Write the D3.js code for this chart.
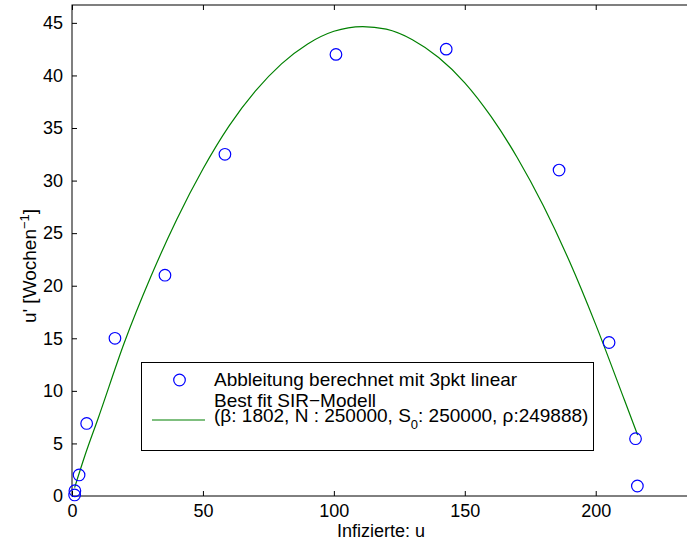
<!DOCTYPE html>
<html>
<head>
<meta charset="utf-8">
<script src="https://cdn.jsdelivr.net/npm/d3@7"></script>
<style>
  body { margin: 0; background: #fff; }
  svg { font-family: "Liberation Sans", Arial, sans-serif; }
</style>
</head>
<body>
<div id="chart"></div>
<script>
// measured points (u, u')
const obsU = [1.0, 1.1, 2.7, 5.6, 16.4, 35.5, 58.4, 100.8, 142.9, 186.0, 205.1, 215.2, 215.9];
const obsV = [0.1, 0.5, 2.0, 6.9, 15.0, 21.0, 32.5, 42.0, 42.5, 31.0, 14.6, 5.45, 0.95];

// fitted SIR curve
const fitU = [1, 5, 10, 20, 30, 40, 50, 60, 70, 80, 90, 100, 111, 120, 130, 140, 150, 160, 170, 180, 190, 200, 211, 216];
const fitV = [0.8, 3.9, 7.4, 14.6, 20.8, 26.3, 31.1, 35.2, 38.5, 41.1, 43.0, 44.2, 44.65, 44.4, 43.4, 41.7, 39.3, 36.1, 32.2, 27.6, 22.3, 16.3, 9.1, 5.8];

const xTicks = [0, 50, 100, 150, 200];
const yTicks = [0, 5, 10, 15, 20, 25, 30, 35, 40, 45];

const width = 687, height = 546;
const margin = { top: 5, left: 72, bottom: 496, right: 690 };

const svg = d3.select("#chart").append("svg")
  .attr("width", width).attr("height", height);

const x = d3.scaleLinear().domain([0, 236]).range([margin.left, margin.right]);
const y = d3.scaleLinear().domain([0, 46.7]).range([margin.bottom, margin.top]);

const fs = 18;

// axes box
svg.append("rect")
  .attr("x", margin.left).attr("y", margin.top)
  .attr("width", margin.right - margin.left).attr("height", margin.bottom - margin.top)
  .attr("fill", "none").attr("stroke", "#000").attr("stroke-width", 1);

const xAxis = d3.axisBottom(x).tickValues(xTicks).tickSizeInner(-5).tickSizeOuter(0).tickPadding(12);
const yAxis = d3.axisLeft(y).tickValues(yTicks).tickSizeInner(-5).tickSizeOuter(0).tickPadding(9);

const gx = svg.append("g").attr("transform", `translate(0,${margin.bottom})`).call(xAxis);
const gy = svg.append("g").attr("transform", `translate(${margin.left},0)`).call(yAxis);
[gx, gy].forEach(g => {
  g.select(".domain").remove();
  g.selectAll("text").style("font-size", fs + "px").attr("fill", "#000");
  g.selectAll("line").attr("stroke", "#000");
});
gx.selectAll("text").attr("dy", "0.71em").attr("y", 8);

// top ticks
svg.append("g").attr("transform", `translate(0,${margin.top})`)
  .call(d3.axisTop(x).tickValues(xTicks).tickSizeInner(-5).tickSizeOuter(0).tickFormat(""))
  .call(g => g.select(".domain").remove())
  .selectAll("line").attr("stroke", "#000");

// fitted curve
const fitData = fitU.map((u, i) => ({ u, v: fitV[i] }));
svg.append("path")
  .datum(fitData)
  .attr("fill", "none")
  .attr("stroke", "#008000")
  .attr("stroke-width", 1.2)
  .attr("d", d3.line().x(d => x(d.u)).y(d => y(d.v)).curve(d3.curveMonotoneX));

// measured points
const obsData = obsU.map((u, i) => ({ u, v: obsV[i] }));
svg.selectAll("circle.obs")
  .data(obsData)
  .enter().append("circle")
  .attr("class", "obs")
  .attr("cx", d => x(d.u))
  .attr("cy", d => y(d.v))
  .attr("r", 5.8)
  .attr("fill", "none")
  .attr("stroke", "#0000ff")
  .attr("stroke-width", 1.2);

// axis labels
svg.append("text")
  .attr("x", (margin.left + margin.right) / 2).attr("y", 537)
  .attr("text-anchor", "middle").style("font-size", fs + "px")
  .text("Infizierte: u");

const yl = svg.append("text")
  .attr("transform", "translate(36,266) rotate(-90)")
  .attr("text-anchor", "middle").style("font-size", "19px");
yl.append("tspan").text("u' [Wochen");
yl.append("tspan").attr("dy", -7).style("font-size", "13px").text("\u22121");
yl.append("tspan").attr("dy", 7).text("]");

// legend
const lfs = 19;
const lg = svg.append("g");
lg.append("rect")
  .attr("x", 141.5).attr("y", 362.5).attr("width", 452).attr("height", 88)
  .attr("fill", "#fff").attr("stroke", "#000").attr("stroke-width", 1);
lg.append("circle").attr("cx", 179.5).attr("cy", 380).attr("r", 5.8)
  .attr("fill", "none").attr("stroke", "#0000ff").attr("stroke-width", 1.2);
lg.append("text").attr("x", 214).attr("y", 386).style("font-size", lfs + "px")
  .text("Abbleitung berechnet mit 3pkt linear");
lg.append("line").attr("x1", 152).attr("x2", 205).attr("y1", 420).attr("y2", 420)
  .attr("stroke", "#008000").attr("stroke-width", 1.2);
lg.append("text").attr("x", 214).attr("y", 407).style("font-size", lfs + "px")
  .text("Best fit SIR\u2212Modell");
const t3 = lg.append("text").attr("x", 214).attr("y", 422).style("font-size", lfs + "px");
t3.append("tspan").text("(\u03b2: 1802, N : 250000, S");
t3.append("tspan").attr("dy", 7).style("font-size", "13px").text("0");
t3.append("tspan").attr("dy", -7).text(": 250000, \u03c1:249888)");
</script>
</body>
</html>
